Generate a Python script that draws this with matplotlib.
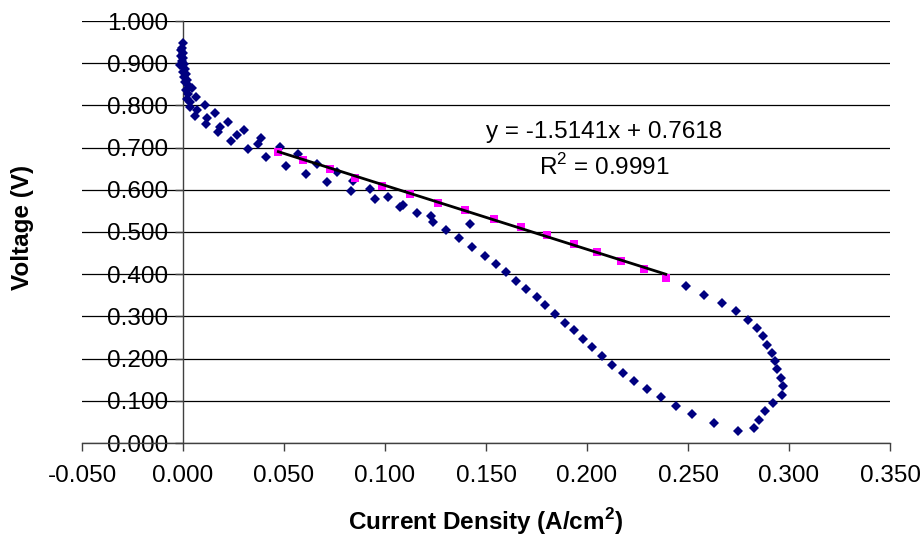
import numpy as np
import matplotlib
matplotlib.use("Agg")
import matplotlib.pyplot as plt

plt.rcParams['font.family'] = ['Liberation Sans', 'DejaVu Sans']
plt.rcParams['mathtext.fontset'] = 'custom'
plt.rcParams['mathtext.rm'] = 'Liberation Sans'
plt.rcParams['mathtext.bf'] = 'Liberation Sans:bold'

# measured polarization data (A/cm2, V)
cur = [0.0002, -0.0003, -0.0010, 0.0001, -0.0012, -0.0001, -0.0006, 0.0004, -0.0013, 0.0010,
       -0.0001, 0.0015, 0.0005, 0.0022, 0.0010, 0.0026, 0.0043, 0.0015, 0.0025, 0.0066,
       0.0018, 0.0037, 0.0109, 0.0036, 0.0069, 0.0158, 0.0060, 0.0119, 0.0114, 0.0225,
       0.0183, 0.0172, 0.0302, 0.0265, 0.0238, 0.0385, 0.0369, 0.0324, 0.0412, 0.0480,
       0.0508, 0.0571, 0.0609, 0.0664, 0.0714, 0.0761, 0.0830, 0.0843, 0.0927, 0.0951,
       0.1013, 0.1076, 0.1088, 0.1159, 0.1227, 0.1238, 0.1303, 0.1364, 0.1419, 0.1429,
       0.1494, 0.1548, 0.1597, 0.1650, 0.1698, 0.1750, 0.1794, 0.1844, 0.1891, 0.1936,
       0.1979, 0.2023, 0.2073, 0.2122, 0.2177, 0.2234, 0.2296, 0.2365, 0.2442, 0.2520,
       0.2627, 0.2748, 0.2825, 0.2851, 0.2883, 0.2922, 0.2964, 0.2969, 0.2962, 0.2942,
       0.2929, 0.2916, 0.2893, 0.2871, 0.2843, 0.2796, 0.2736, 0.2667, 0.2581, 0.2489]
volt = [0.947, 0.937, 0.931, 0.925, 0.918, 0.912, 0.905, 0.899, 0.895, 0.887,
        0.880, 0.874, 0.867, 0.861, 0.855, 0.848, 0.841, 0.836, 0.826, 0.821,
        0.815, 0.809, 0.800, 0.797, 0.789, 0.781, 0.775, 0.769, 0.755, 0.761,
        0.748, 0.737, 0.742, 0.729, 0.716, 0.723, 0.709, 0.697, 0.678, 0.702,
        0.657, 0.684, 0.637, 0.662, 0.618, 0.641, 0.598, 0.622, 0.602, 0.578,
        0.583, 0.560, 0.563, 0.544, 0.537, 0.523, 0.504, 0.485, 0.520, 0.464,
        0.443, 0.424, 0.405, 0.385, 0.365, 0.345, 0.326, 0.305, 0.285, 0.267,
        0.246, 0.227, 0.206, 0.186, 0.167, 0.148, 0.128, 0.108, 0.088, 0.069,
        0.048, 0.028, 0.035, 0.055, 0.075, 0.095, 0.114, 0.134, 0.154, 0.175,
        0.194, 0.213, 0.233, 0.253, 0.273, 0.292, 0.312, 0.332, 0.351, 0.372]

# ohmic region used for the linear fit
fit_cur = [0.0472, 0.0593, 0.0728, 0.0853, 0.0985, 0.1124, 0.1264, 0.1398,
           0.1541, 0.1675, 0.1800, 0.1934, 0.2051, 0.2167, 0.2282, 0.2390]
fit_volt = [0.6889, 0.6699, 0.6486, 0.6280, 0.6083, 0.5908, 0.5694, 0.5514,
            0.5308, 0.5111, 0.4922, 0.4707, 0.4517, 0.4318, 0.4112, 0.3918]
slope = -1.5141
intercept = 0.7618
r2 = 0.9991

fig = plt.figure(figsize=(9.21, 5.39), dpi=100)
ax = fig.add_axes([82/921, 1-443/539, 808/921, 422/539])

ax.plot(cur, volt, linestyle="None", marker="D", ms=5.3, mew=0, color="#000080", zorder=3)
ax.plot(fit_cur, fit_volt, linestyle="None", marker="s", ms=6.3, mew=0, color="#FF00FF", zorder=3)
xl = np.array([min(fit_cur), max(fit_cur)])
ax.plot(xl, slope*xl + intercept, color="black", lw=2.0, zorder=4)

ax.set_xlim(-0.05, 0.35)
ax.set_ylim(0, 1)
ax.set_xticks(np.arange(-0.05, 0.351, 0.05))
ax.set_yticks(np.arange(0, 1.001, 0.1))
ax.xaxis.set_major_formatter(matplotlib.ticker.FormatStrFormatter('%.3f'))
ax.yaxis.set_major_formatter(matplotlib.ticker.FormatStrFormatter('%.3f'))
ax.grid(axis='y', color='black', lw=0.9, zorder=0)

ax.spines['top'].set_visible(False)
ax.spines['right'].set_visible(False)
ax.spines['left'].set_position(('data', 0))
for s in ['left', 'bottom']:
    ax.spines[s].set_color('#404040')
    ax.spines[s].set_linewidth(1.0)
ax.tick_params(axis='both', direction='out', length=5.5, width=1.0, color='#404040',
               labelsize=17.5)
ax.tick_params(axis='x', pad=10)
ax.tick_params(axis='y', pad=5)

ax.text(0.2084, 0.737, "y = -1.5141x + 0.7618", ha='center', va='center', fontsize=17.5)
ax.text(0.2084, 0.654, "R$^2$ = %.4f" % r2, ha='center', va='center', fontsize=17.5)

fig.text(22/921, 1-227/539, "Voltage (V)", rotation=90, ha='center', va='center',
         fontsize=17.5, fontweight='bold')
fig.text(486/921, 1-522/539, r"Current Density (A/cm$^{\mathbf{2}}$)", ha='center', va='center',
         fontsize=17.5, fontweight='bold')

fig.savefig("out.png", dpi=100)
